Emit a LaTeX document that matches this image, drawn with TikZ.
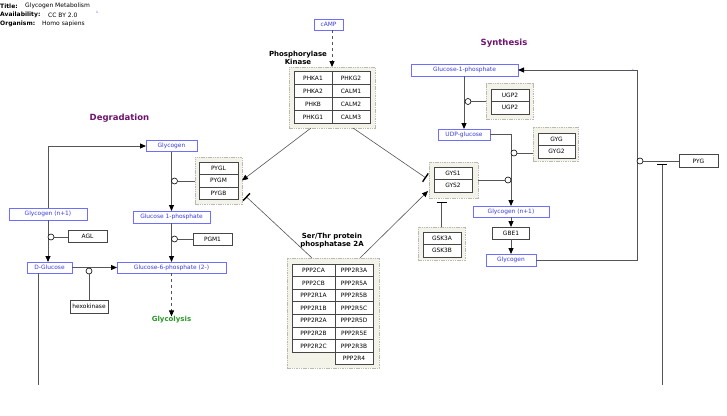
\documentclass[tikz,border=0pt]{standalone}
\usepackage{fontspec}
\setmainfont{DejaVu Sans}
\usetikzlibrary{arrows.meta,calc}
\definecolor{metb}{RGB}{110,110,255}
\definecolor{mett}{RGB}{60,60,225}
\definecolor{genec}{RGB}{70,70,70}
\definecolor{grpf}{RGB}{243,243,234}
\definecolor{grpd}{RGB}{185,185,175}
\definecolor{linec}{RGB}{85,85,85}
\definecolor{purp}{RGB}{110,20,110}
\definecolor{gly}{RGB}{40,150,40}
\begin{document}
\begin{tikzpicture}[x=1pt,y=-1pt,
  met/.style={draw=metb, text=mett, fill=white, font=\fontsize{5.9}{7}\selectfont, inner sep=0pt, outer sep=0pt, line width=0.9pt},
  gene/.style={draw=genec, fill=white, text=black, font=\fontsize{5.9}{7}\selectfont, inner sep=0pt, outer sep=0pt, line width=0.7pt},
  cell/.style={gene, anchor=north west, minimum width=38pt},
  grp/.style={draw=grpd, fill=grpf, dash pattern=on 1.5pt off 0.8pt, line width=0.8pt, inner sep=0pt, outer sep=0pt, anchor=north west},
  rxn/.style={draw=linec, line width=0.9pt, -{Triangle[length=6pt,width=5pt,color=black]}},
  mod/.style={draw=linec, line width=0.8pt},
  inh/.style={draw=linec, line width=0.8pt, -{Bar[width=10pt,line width=1.4pt,color=black]}},
  catc/.style={circle, draw=black, fill=white, minimum size=6pt, inner sep=0pt, line width=0.6pt},
  lbl/.style={font=\bfseries\fontsize{7}{8}\selectfont, align=center, inner sep=0pt},
  sect/.style={font=\bfseries\fontsize{8.5}{10}\selectfont, text=purp, inner sep=0pt},
  hdr/.style={font=\fontsize{6}{7}\selectfont, anchor=west, inner sep=0pt},
  hdrb/.style={font=\bfseries\fontsize{6}{7}\selectfont, anchor=west, inner sep=0pt},
  tiny1/.style={font=\fontsize{3}{3}\selectfont, text=mett, inner sep=0pt}]
\useasboundingbox (0,0) rectangle (727,415);

% header
\node[hdrb] (t1) at (0,6) {Title:};
\node[hdr] (t2) at (25,6) {Glycogen Metabolism};
\node[hdrb] (a1) at (0,15) {Availability:};
\node[hdr] (a2) at (48,15) {CC BY 2.0};
\node[tiny1] (sup1) at (97,12) {1};
\node[hdrb] (o1) at (0,24) {Organism:};
\node[hdr] (o2) at (42,24) {Homo sapiens};

% section labels
\node[sect] (deg) at (119.5,118) {Degradation};
\node[sect] (syn) at (504,43) {Synthesis};
\node[lbl] (pklbl) at (298,57.5) {Phosphorylase\\Kinase};
\node[lbl] (pplbl) at (332,240.5) {Ser/Thr protein\\phosphatase 2A};
\node[font=\bfseries\fontsize{7}{8}\selectfont, text=gly, inner sep=0pt] (glyc) at (171.5,320) {Glycolysis};

% groups
\node[grp, minimum width=86pt, minimum height=61pt] (pk) at (289,67) {};
\node[cell, minimum height=13pt] (c11) at (294,71.5) {PHKA1};
\node[cell, minimum height=13pt] (c12) at (332,71.5) {PHKG2};
\node[cell, minimum height=13pt] (c21) at (294,84.5) {PHKA2};
\node[cell, minimum height=13pt] (c22) at (332,84.5) {CALM1};
\node[cell, minimum height=13pt] (c31) at (294,97.5) {PHKB};
\node[cell, minimum height=13pt] (c32) at (332,97.5) {CALM2};
\node[cell, minimum height=13pt] (c41) at (294,110.5) {PHKG1};
\node[cell, minimum height=13pt] (c42) at (332,110.5) {CALM3};

\node[grp, minimum width=47pt, minimum height=47pt] (pyg) at (195,157) {};
\node[cell, minimum height=12.5pt, minimum width=39pt] (pygl) at (199,162) {PYGL};
\node[cell, minimum height=12.5pt, minimum width=39pt] (pygm) at (199,174.5) {PYGM};
\node[cell, minimum height=12.5pt, minimum width=39pt] (pygb) at (199,187) {PYGB};

\node[grp, minimum width=49pt, minimum height=36pt] (gys) at (429,162) {};
\node[cell, minimum height=12.5pt] (gys1) at (434,167) {GYS1};
\node[cell, minimum height=12.5pt] (gys2) at (434,179.5) {GYS2};

\node[grp, minimum width=47pt, minimum height=33pt] (gsk) at (418,227) {};
\node[cell, minimum height=12.5pt] (gsk3a) at (423,232) {GSK3A};
\node[cell, minimum height=12.5pt] (gsk3b) at (423,244.5) {GSK3B};

\node[grp, minimum width=47pt, minimum height=36pt] (ugp) at (486,83) {};
\node[cell, minimum height=12.5pt] (ugp1) at (491,89) {UGP2};
\node[cell, minimum height=12.5pt] (ugp2) at (491,101.5) {UGP2};

\node[grp, minimum width=45pt, minimum height=34pt] (gyg) at (533,127) {};
\node[cell, minimum height=12.5pt, minimum width=37pt] (gyg1) at (538,133) {GYG};
\node[cell, minimum height=12.5pt, minimum width=37pt] (gyg2) at (538,145.5) {GYG2};

\node[grp, minimum width=92pt, minimum height=110pt] (pp) at (287,258) {};
\foreach \t [count=\i from 0] in {PPP2CA,PPP2CB,PPP2R1A,PPP2R1B,PPP2R2A,PPP2R2B,PPP2R2C}
  \node[cell, minimum width=43pt, minimum height=12.6pt] (ppa\i) at (292,264+12.6*\i) {\t};
\foreach \t [count=\i from 0] in {PPP2R3A,PPP2R5A,PPP2R5B,PPP2R5C,PPP2R5D,PPP2R5E,PPP2R3B,PPP2R4}
  \node[cell, minimum width=38pt, minimum height=12.6pt] (ppb\i) at (335,264+12.6*\i) {\t};

% metabolites
\node[met, minimum width=29pt, minimum height=11pt] (camp) at (328.5,24.5) {cAMP};
\node[met, minimum width=107pt, minimum height=12pt] (g1ps) at (464.5,70) {Glucose-1-phosphate};
\node[met, minimum width=52pt, minimum height=11pt] (udpg) at (464,134.5) {UDP-glucose};
\node[met, minimum width=76pt, minimum height=11pt] (gn1s) at (511,211.5) {Glycogen (n+1)};
\node[met, minimum width=50pt, minimum height=12pt] (glys) at (511,260) {Glycogen};
\node[met, minimum width=51pt, minimum height=11pt] (glyd) at (171.5,146) {Glycogen};
\node[met, minimum width=78pt, minimum height=12pt] (gn1d) at (48,214) {Glycogen (n+1)};
\node[met, minimum width=77pt, minimum height=12pt] (g1pd) at (171.5,217) {Glucose 1-phosphate};
\node[met, minimum width=109pt, minimum height=11pt] (g6p) at (171.5,267.5) {Glucose-6-phosphate (2-)};
\node[met, minimum width=45pt, minimum height=11pt] (dglc) at (49.5,267.5) {D-Glucose};

% gene boxes
\node[gene, minimum width=37pt, minimum height=12pt] (gbe1) at (511,233) {GBE1};
\node[gene, minimum width=39pt, minimum height=12pt] (agl) at (87.5,236) {AGL};
\node[gene, minimum width=39pt, minimum height=12pt] (pgm1) at (212.5,239) {PGM1};
\node[gene, minimum width=38pt, minimum height=13pt] (hk) at (89,306.5) {hexokinase};
\node[gene, minimum width=39pt, minimum height=13pt] (pygx) at (698.5,161) {PYG};

% coordinates
\coordinate (pkin) at (332,67);
\coordinate (rt) at (637,70);
\coordinate (dgend) at (38,385);
\coordinate (pygend) at (662,385);
\coordinate (pygbar) at (662,164);
\coordinate (gskbar) at (0,202);

% reactions
\draw[rxn, dashed] (camp.south -| pkin) -- (pkin);
\draw[rxn] (udpg.north |- g1ps.south) -- (udpg.north);
\draw[rxn] (udpg.east) -| (gn1s.north);
\draw[rxn] (gn1s.south) -- (gbe1.north);
\draw[rxn] (gbe1.south) -- (glys.north);
\draw[rxn] (glys.east) -| (rt) -- (g1ps.east);
\node[tiny1] (sup2) at (633,70) {1};

\draw[rxn] (gn1d.north) |- (glyd.west);
\draw[rxn] (glyd.south) -- (g1pd.north);
\draw[rxn] (g1pd.south) -- (g6p.north);
\draw[rxn] (gn1d.south) -- (dglc.north -| gn1d.south);
\draw[rxn] (dglc.east) -- (g6p.west);
\draw[rxn, dashed] (g6p.south) -- (glyc.north);
\draw[mod] (dgend |- dglc.south) -- (dgend);

% regulation
\draw[rxn, line width=0.6pt] ([xshift=22pt]pk.south west) -- (pyg.east);
\draw[inh, line width=0.6pt] ([xshift=64pt]pk.south west) -- ([xshift=-3pt,yshift=2pt]gys.west);
\draw[inh, line width=0.6pt] ([xshift=25pt]pp.north west) -- ([xshift=4pt,yshift=-16pt]pyg.east);
\draw[rxn, line width=0.6pt] ([xshift=73pt]pp.north west) -- ([xshift=-1pt,yshift=-11pt]gys.west);
\draw[inh] (gsk.north) -- (gsk.north |- gskbar);
\draw[inh] (pygend) -- (pygbar);

% catalysis circles
\node[catc] (cugp) at (468,101.5) {};
\node[catc] (cgyg) at (514,153) {};
\node[catc] (cgys) at (508,180) {};
\node[catc] (cpygx) at (640,161) {};
\node[catc] (cpyg) at (174.5,181) {};
\node[catc] (cpgm) at (174.5,239) {};
\node[catc] (cagl) at (51,237) {};
\node[catc] (chk) at (89,271) {};
\draw[mod] (cugp) -- (cugp -| ugp.west);
\draw[mod] (cgyg) -- (cgyg -| gyg.west);
\draw[mod] (cgys) -- (cgys -| gys.east);
\draw[mod] (cpygx) -- (pygx.west);
\draw[mod] (cpyg) -- (cpyg -| pyg.west);
\draw[mod] (cpgm) -- (pgm1.west);
\draw[mod] (cagl) -- (cagl -| agl.west);
\draw[mod] (chk) -- (hk.north);
\end{tikzpicture}
\end{document}
